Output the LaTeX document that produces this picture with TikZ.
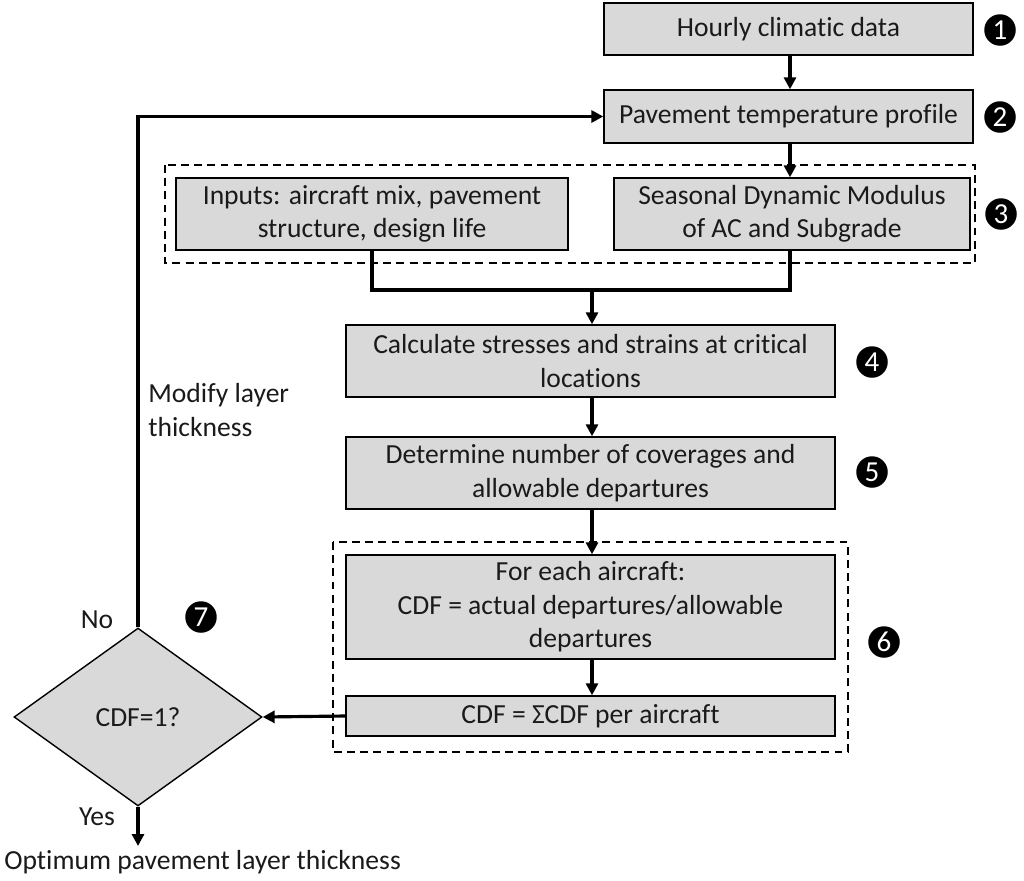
\documentclass[tikz,border=0pt]{standalone}
\usepackage{fontspec}
\setmainfont{Carlito}[Ligatures=NoCommon]
\usetikzlibrary{arrows.meta,shapes.geometric}
\definecolor{boxgray}{HTML}{D9D9D9}
\definecolor{txt}{HTML}{1A1A1A}
\tikzset{
  stepbox/.style={draw=black,line width=0.8pt,fill=boxgray,align=center,inner sep=0pt,text=txt,
    font=\fontsize{15.7}{19}\selectfont},
  numdot/.style={circle,fill=black,text=white,inner sep=0pt,minimum size=0.63cm,
    font=\fontsize{16.5}{16.5}\selectfont},
  flow/.style={line width=1.8pt,-{Triangle[length=0.24cm,width=0.24cm]}},
  plainflow/.style={line width=1.8pt},
  grp/.style={dashed,line width=0.8pt,dash pattern=on 4.5pt off 3pt},
  lbl/.style={text=txt,font=\fontsize{15.7}{19}\selectfont,inner sep=0pt}
}
\begin{document}
\begin{tikzpicture}[x=0.02cm,y=-0.02cm]
\useasboundingbox (0,0) rectangle (1024,880);
% group boxes
\draw[grp] (165,165) rectangle (975,263);
\draw[grp] (333,542) rectangle (848,752);
% boxes
\node[stepbox,minimum width=7.38cm,minimum height=1.04cm] (b1) at (788.5,29) {Hourly climatic data};
\node[stepbox,minimum width=7.38cm,minimum height=1.06cm] (b2) at (788.5,116.5) {Pavement temperature profile};
\node[stepbox,minimum width=7.84cm,minimum height=1.44cm] (inp) at (372,214) {Inputs: aircraft mix, pavement\\structure, design life};
\node[stepbox,minimum width=7.12cm,minimum height=1.44cm] (sea) at (792,214) {Seasonal Dynamic Modulus\\of AC and Subgrade};
\node[stepbox,minimum width=9.78cm,minimum height=1.44cm] (b4) at (590.5,361) {Calculate stresses and strains at critical\\locations};
\node[stepbox,minimum width=9.78cm,minimum height=1.44cm] (b5) at (590.5,473) {Determine number of coverages and\\allowable departures};
\node[stepbox,minimum width=9.78cm,minimum height=2.08cm] (b6a) at (590.5,607) {For each aircraft:\\CDF = actual departures/allowable\\departures};
\node[stepbox,minimum width=9.78cm,minimum height=0.8cm] (b6b) at (590.5,716) {CDF = ΣCDF per aircraft};
\node[stepbox,shape=diamond,minimum width=4.96cm,minimum height=3.56cm] (dia) at (138,717) {CDF=1?};
% numbers
\node[numdot] (n1) at (1000,30) {1};
\node[numdot] (n2) at (1000,117) {2};
\node[numdot] (n3) at (1001,214) {3};
\node[numdot] (n4) at (872,362) {4};
\node[numdot] (n5) at (872,472) {5};
\node[numdot] (n6) at (884,642) {6};
\node[numdot] (n7) at (201,617) {7};
% labels
\node[lbl,anchor=center] (no) at (97,620) {No};
\node[lbl,anchor=center] (yes) at (97,817) {Yes};
\node[lbl,anchor=west,align=left] (mod) at (148,410) {Modify layer\\thickness};
\node[lbl,anchor=west] (opt) at (4,862) {Optimum pavement layer thickness};
\coordinate (optTop) at (138,846);
\coordinate (m) at (592,290);
% connectors
\draw[flow] (b1.south -| 790,0) -- (b2.north -| 790,0);
\draw[flow] (b2.south -| 790,0) -- (sea.north -| 790,0);
\draw[plainflow] (inp.south) |- (m);
\draw[plainflow] (sea.south -| 790,0) |- (m);
\draw[flow] (m) -- (b4.north -| m);
\draw[flow] (b4.south -| m) -- (b5.north -| m);
\draw[flow] (b5.south -| m) -- (b6a.north -| m);
\draw[flow] (b6a.south -| m) -- (b6b.north -| m);
\draw[flow] (b6b.west) -- (dia.east);
\draw[flow] (dia.north) |- (b2.west);
\draw[flow] (dia.south) -- (optTop);
\end{tikzpicture}
\end{document}
